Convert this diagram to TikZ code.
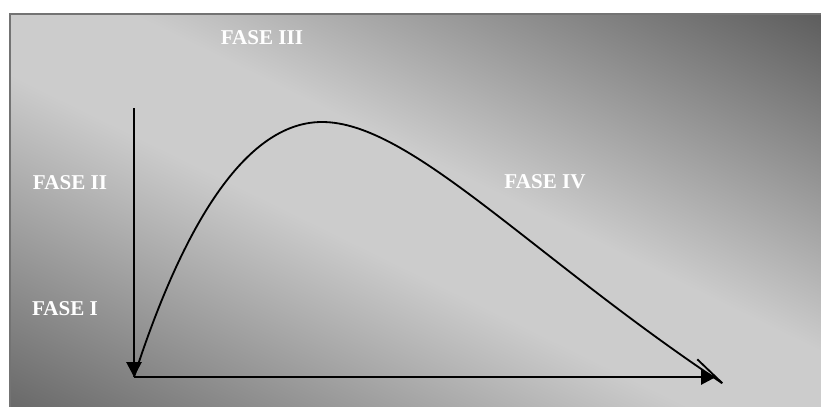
\documentclass[tikz,border=0pt]{standalone}
\usepackage{fontspec}
\setmainfont{Liberation Serif}
\usetikzlibrary{arrows.meta}
\definecolor{bgdark}{gray}{0.37}
\definecolor{bgdarkb}{gray}{0.41}
\definecolor{bglight}{gray}{0.80}
\definecolor{framegray}{gray}{0.45}
\pgfdeclarehorizontalshading{fasebg}{100bp}{color(0bp)=(bgdarkb); color(17bp)=(bgdarkb);
  color(45bp)=(bglight); color(55bp)=(bglight); color(83bp)=(bgdark); color(100bp)=(bgdark)}

\begin{document}
\begin{tikzpicture}[x=0.025cm,y=-0.025cm,
    fase/.style={text=white,font=\bfseries\fontsize{15}{18}\selectfont},
    axis/.style={line width=2pt,-{Triangle[length=0.375cm,width=0.375cm]}},
    wave/.style={line width=1.3pt,-{Straight Barb[harpoon,length=0.85cm,width=0.3cm]}}]

  \clip (0,0) rectangle (821,407);

  % ── background panel ────────────────────────────────────────────
  \shade[shading=fasebg,shading angle=63.9] (10,14) rectangle (830,416);
  \draw[framegray,line width=1.6pt] (10,14) rectangle (830,416);

  % ── phase labels ────────────────────────────────────────────────
  \node[fase] (f3) at (262,38)  {FASE III};
  \node[fase] (f2) at (70,183)  {FASE II};
  \node[fase] (f4) at (545,182) {FASE IV};
  \node[fase] (f1) at (65,309)  {FASE I};

  % ── axes ────────────────────────────────────────────────────────
  \coordinate (o)    at (134,377);
  \coordinate (ytop) at (134,108);
  \coordinate (xend) at (716,377);
  \draw[axis] (ytop) -- (o);
  \draw[axis] (o) -- (xend);

  % ── curve ───────────────────────────────────────────────────────
  \coordinate (peak) at (322,122);
  \coordinate (cend) at (731,389);
  \draw[wave] (o) .. controls (175,250) and (237,122) .. (peak)
                  .. controls (410,122) and (530,255) .. (cend);

\end{tikzpicture}
\end{document}
